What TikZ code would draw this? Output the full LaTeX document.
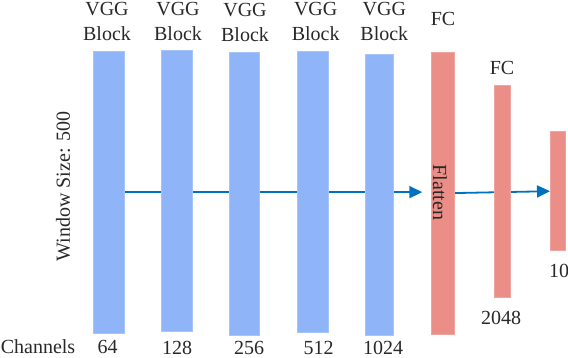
\documentclass[tikz,border=0pt]{standalone}
\usepackage{fontspec}
\setmainfont{Liberation Serif}
\usetikzlibrary{arrows.meta,calc,backgrounds}
\definecolor{barblue}{RGB}{143,181,248}
\definecolor{barred}{RGB}{234,142,135}
\definecolor{arrowblue}{RGB}{0,112,192}
\definecolor{txt}{RGB}{40,40,40}
\begin{document}
\begin{tikzpicture}[x=1pt,y=-1pt,
  font=\fontsize{20}{25}\selectfont, text=txt,
  vbar/.style={fill=barblue,draw=barblue!80!white,line width=0.6pt,inner sep=0pt,outer sep=0pt,anchor=north west},
  rbar/.style={fill=barred,draw=barred!80!white,line width=0.6pt,inner sep=0pt,outer sep=0pt,anchor=north west},
  lbl/.style={inner sep=0pt,align=center,anchor=base},
  blbl/.style={lbl,text depth=0pt},
  flow/.style={draw=arrowblue,line width=1.8pt,-{Triangle[length=13pt,width=12pt]}}]
\useasboundingbox (0,0) rectangle (568,358);
% bars
\node[vbar,minimum width=31pt,minimum height=281.7pt] (b1) at (93,51.3) {};
\node[vbar,minimum width=31pt,minimum height=281.7pt] (b2) at (161,50) {};
\node[vbar,minimum width=30.4pt,minimum height=282.3pt] (b3) at (229.3,52.7) {};
\node[vbar,minimum width=30.7pt,minimum height=281.7pt] (b4) at (297.3,51) {};
\node[vbar,minimum width=28pt,minimum height=281.7pt] (b5) at (365.3,54) {};
\node[rbar,minimum width=22.7pt,minimum height=282pt] (f1) at (431.3,52.3) {};
\node[rbar,minimum width=16.7pt,minimum height=212pt] (f2) at (494,85.3) {};
\node[rbar,minimum width=15.7pt,minimum height=119pt] (f3) at (550,131.7) {};
% arrows behind bars
\begin{scope}[on background layer]
\draw[flow] (b1.center) -- ($(b1.center -| f1.west)+(-9,0)$);
\draw[flow] (f1.center) -- (f3.west);
\end{scope}
% top labels
\node[lbl] (t1) at (107,41) {VGG\\Block};
\node[lbl] (t2) at (178,40.7) {VGG\\Block};
\node[lbl] (t3) at (245,42) {VGG\\Block};
\node[lbl] (t4) at (315.7,40.7) {VGG\\Block};
\node[lbl] (t5) at (384.3,40.7) {VGG\\Block};
\node[lbl] (t6) at (443,26) {FC};
\node[lbl] (t7) at (502,75) {FC};
% side and inner labels
\node[inner sep=0pt,rotate=90] (ws) at (63,186.5) {Window Size: 500};
\node[inner sep=0pt,rotate=-90] (fl) at (440,192.5) {Flatten};
% bottom labels
\node[blbl] (ch) at (38,353.5) {Channels};
\node[blbl] (c1) at (107.5,353.5) {64};
\node[blbl] (c2) at (177,354.5) {128};
\node[blbl] (c3) at (249,354) {256};
\node[blbl] (c4) at (318.5,354) {512};
\node[blbl] (c5) at (383,354) {1024};
\node[lbl] (c6) at (501,324) {2048};
\node[lbl] (c7) at (559,277.5) {10};
\end{tikzpicture}
\end{document}
